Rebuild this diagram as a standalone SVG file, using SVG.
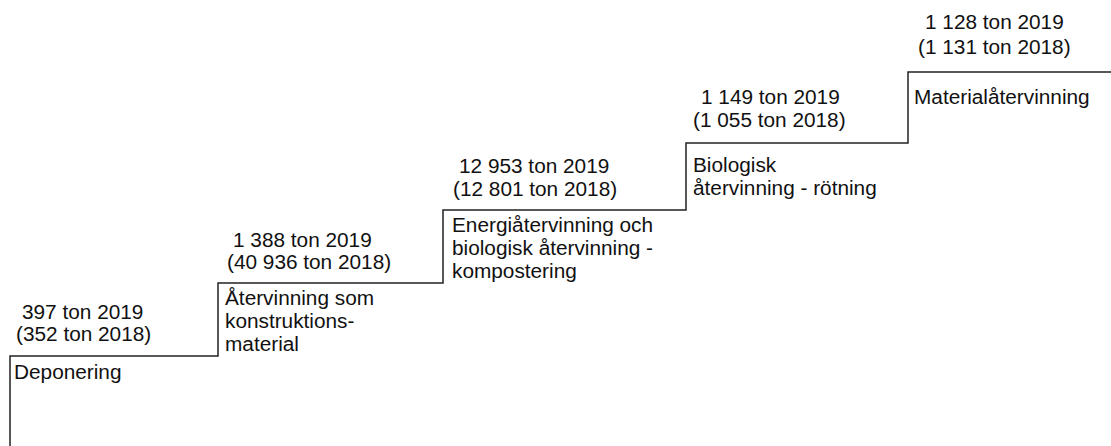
<svg xmlns="http://www.w3.org/2000/svg" width="1111" height="446" viewBox="0 0 1111 446">
<style>
text{font-family:"Liberation Sans",Arial,sans-serif;font-size:20px;fill:#111}
.step{fill:none;stroke:#222;stroke-width:1.5}
</style>
<rect width="1111" height="446" fill="#fff"/>
<g id="connectors">
<path class="step" d="M10,446 V356 H218 V283 H443 V210 H686 V143 H908 V72 H1111"/>
</g>
<g id="deponering">
<text transform="matrix(1.04 0 0 1 22 319)">397 ton 2019</text>
<text transform="matrix(1.04 0 0 1 16 341)">(352 ton 2018)</text>
<text transform="matrix(1.04 0 0 1 14 379)">Deponering</text>
</g>
<g id="konstruktion">
<text transform="matrix(1.04 0 0 1 233 247)">1 388 ton 2019</text>
<text transform="matrix(1.04 0 0 1 227 269)">(40 936 ton 2018)</text>
<text transform="matrix(1.04 0 0 1 225 305)">Återvinning som</text>
<text transform="matrix(1.04 0 0 1 225 328)">konstruktions-</text>
<text transform="matrix(1.04 0 0 1 225 351)">material</text>
</g>
<g id="energi">
<text transform="matrix(1.04 0 0 1 459 173)">12 953 ton 2019</text>
<text transform="matrix(1.04 0 0 1 453 196)">(12 801 ton 2018)</text>
<text transform="matrix(1.04 0 0 1 452 232)">Energiåtervinning och</text>
<text transform="matrix(1.04 0 0 1 452 255)">biologisk återvinning -</text>
<text transform="matrix(1.04 0 0 1 452 278)">kompostering</text>
</g>
<g id="biologisk">
<text transform="matrix(1.04 0 0 1 701 104)">1 149 ton 2019</text>
<text transform="matrix(1.04 0 0 1 693 127)">(1 055 ton 2018)</text>
<text transform="matrix(1.04 0 0 1 693 172)">Biologisk</text>
<text transform="matrix(1.04 0 0 1 693 195)">återvinning - rötning</text>
</g>
<g id="material">
<text transform="matrix(1.04 0 0 1 925 29)">1 128 ton 2019</text>
<text transform="matrix(1.04 0 0 1 918 54)">(1 131 ton 2018)</text>
<text transform="matrix(1.04 0 0 1 914 104)">Materialåtervinning</text>
</g>
</svg>
